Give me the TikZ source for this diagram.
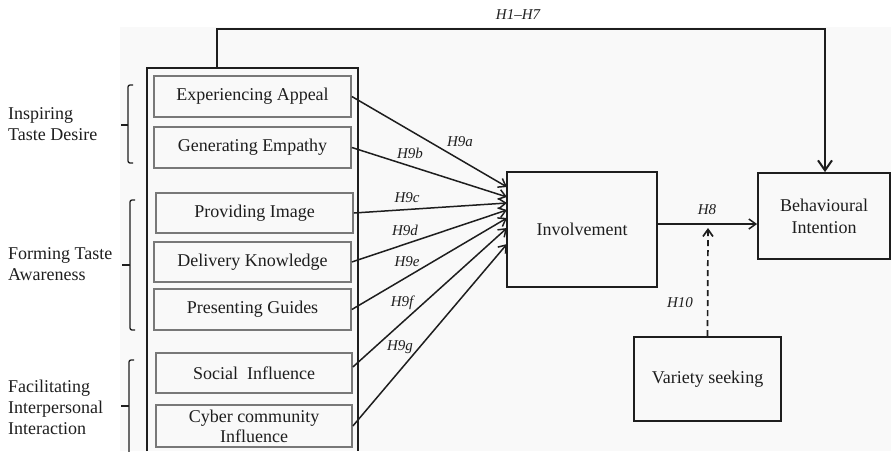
\documentclass[tikz,border=0pt]{standalone}
\usepackage{fontspec}
\setmainfont{Liberation Serif}
\usetikzlibrary{arrows.meta,calc}
\definecolor{bg}{RGB}{249,249,249}
\definecolor{ink}{RGB}{30,30,30}
\definecolor{boxgray}{RGB}{120,120,120}
\begin{document}
\begin{tikzpicture}[x=1pt,y=-1pt,
  txt/.style={font=\fontsize{18}{21}\selectfont, text=ink, align=left, inner sep=0pt},
  innerbox/.style={draw=boxgray, line width=1.7pt, minimum width=197pt, minimum height=41pt, inner sep=0pt, font=\fontsize{18}{21}\selectfont, text=ink, align=center},
  mainbox/.style={draw=ink, line width=1.8pt, inner sep=0pt, font=\fontsize{18}{22}\selectfont, text=ink, align=center},
  hyp/.style={font=\fontsize{15}{17}\selectfont\itshape, text=ink, inner sep=0pt},
  arr/.style={draw=ink, line width=1.5pt, -{Straight Barb[length=7pt,width=10pt]}},
  brk/.style={draw=ink, line width=1.3pt, rounded corners=2pt}]
\useasboundingbox (0,0) rectangle (891,451);
\fill[bg] (120,27) rectangle (891,451);

% outer frame
\coordinate (obl) at (147,451);
\coordinate (otl) at (147,68);
\coordinate (otr) at (358,68);
\coordinate (obr) at (358,451);
\coordinate (ot) at (217,68);
\draw[ink, line width=2.6pt] (obl) -- (otl) -- (otr) -- (obr);

% inner boxes
\node[innerbox] (ea) at (252.5,96.5) {Experiencing Appeal};
\node[innerbox] (ge) at (252.5,147.5) {Generating Empathy};
\node[innerbox, minimum height=40pt] (pi) at (254.5,213) {Providing Image};
\node[innerbox, minimum height=40pt] (dk) at (252.5,262) {Delivery Knowledge};
\node[innerbox] (pg) at (252.5,309.5) {Presenting Guides};
\node[innerbox, minimum width=196pt, minimum height=40pt] (si) at (254,373) {Social~ Influence};
\node[innerbox, minimum width=196pt, minimum height=42pt, font=\fontsize{18}{20}\selectfont] (cc) at (254,426) {Cyber community\\Influence};

% main boxes
\node[mainbox, minimum width=150pt, minimum height=115pt] (inv) at (582,229.5) {Involvement};
\node[mainbox, minimum width=132pt, minimum height=86pt] (bi) at (824,216) {Behavioural\\Intention};
\node[mainbox, minimum width=147pt, minimum height=84pt] (vs) at (707.5,379) {Variety seeking};

% top connector H1-H7
\coordinate (tc) at (825,29);
\draw[draw=ink, line width=2pt, -{Straight Barb[length=10pt,width=14pt]}] (ot) |- (tc) -- (tc |- bi.north);
\node[hyp] (h17) at (518,15) {H1–H7};

% H9 arrows
\coordinate (ta) at (507,187);
\coordinate (tb) at (507,197);
\coordinate (tcc) at (507,203);
\coordinate (td) at (507,210);
\coordinate (te) at (507,218);
\coordinate (tf) at (507,228);
\coordinate (tg) at (507,244);
\draw[arr] (ea.east) -- (ta);
\draw[arr] (ge.east) -- (tb);
\draw[arr] (pi.east) -- (tcc);
\draw[arr] (dk.east) -- (td);
\draw[arr] (pg.east) -- (te);
\draw[arr] ($(si.east)+(0,-6)$) -- (tf);
\draw[arr] (cc.east) -- (tg);
\node[hyp] (l9a) at (460,142) {H9a};
\node[hyp] (l9b) at (410,153) {H9b};
\node[hyp] (l9c) at (407,198) {H9c};
\node[hyp] (l9d) at (405,230) {H9d};
\node[hyp] (l9e) at (407,262) {H9e};
\node[hyp] (l9f) at (402,303) {H9f};
\node[hyp] (l9g) at (400,347) {H9g};

% H8
\coordinate (h8s) at ($(inv.east)+(0,-5.5)$);
\draw[arr] (h8s) -- (h8s -| bi.west);
\node[hyp] (l8) at (707,210) {H8};

% H10 dashed
\coordinate (h10e) at (708,228);
\draw[arr, line width=1.7pt, dash pattern=on 6pt off 4pt] (vs.north) -- (h10e);
\node[hyp] (l10) at (680,303) {H10};

% brackets and group labels
\draw[brk] (133,85) -- (128,85) -- (128,163) -- (133,163);
\draw[ink, line width=1.3pt] (128,125) -- (121,125);
\node[txt, anchor=west] (g1) at (8,124) {Inspiring\\Taste Desire};

\draw[brk] (135,200) -- (130,200) -- (130,330) -- (135,330);
\draw[ink, line width=1.3pt] (130,265) -- (122,265);
\node[txt, anchor=west] (g2) at (8,264) {Forming Taste\\Awareness};

\draw[brk] (134,360) -- (129,360) -- (129,452);
\draw[ink, line width=1.3pt] (129,406) -- (121,406);
\node[txt, anchor=west] (g3) at (8,407) {Facilitating\\Interpersonal\\Interaction};
\end{tikzpicture}
\end{document}
